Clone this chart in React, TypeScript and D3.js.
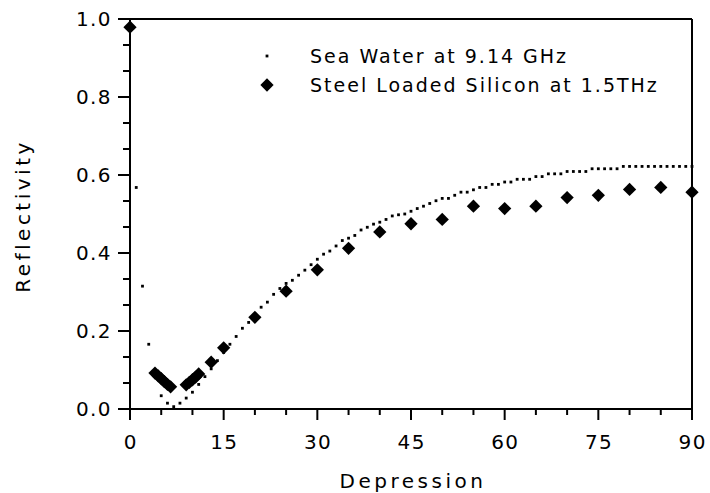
import React from "react";
import * as d3 from "d3";

// Sea water at 9.14 GHz (one dot per degree)
const seaWaterDepression = [
    1, 2, 3, 4, 5, 6, 7, 8, 9, 10, 11, 12, 13, 14, 15, 16, 17, 18, 19, 20,
    21, 22, 23, 24, 25, 26, 27, 28, 29, 30, 31, 32, 33, 34, 35, 36, 37, 38, 39, 40,
    41, 42, 43, 44, 45, 46, 47, 48, 49, 50, 51, 52, 53, 54, 55, 56, 57, 58, 59, 60,
    61, 62, 63, 64, 65, 66, 67, 68, 69, 70, 71, 72, 73, 74, 75, 76, 77, 78, 79, 80,
    81, 82, 83, 84, 85, 86, 87, 88, 89, 90,
];
const seaWaterReflectivity = [
    0.568, 0.315, 0.166, 0.085, 0.034, 0.015, 0.006, 0.015, 0.028, 0.043,
    0.063, 0.083, 0.103, 0.124, 0.145, 0.166, 0.186, 0.207, 0.222, 0.243,
    0.261, 0.274, 0.294, 0.309, 0.322, 0.33, 0.343, 0.356, 0.37, 0.384,
    0.397, 0.405, 0.418, 0.432, 0.438, 0.445, 0.459, 0.466, 0.474, 0.479,
    0.486, 0.495, 0.498, 0.5, 0.507, 0.514, 0.52, 0.527, 0.534, 0.54,
    0.54, 0.548, 0.556, 0.556, 0.562, 0.568, 0.568, 0.576, 0.576, 0.582,
    0.582, 0.589, 0.589, 0.589, 0.596, 0.596, 0.603, 0.603, 0.603, 0.609,
    0.609, 0.609, 0.609, 0.616, 0.616, 0.616, 0.616, 0.616, 0.622, 0.622,
    0.622, 0.622, 0.622, 0.622, 0.622, 0.622, 0.622, 0.622, 0.622, 0.622,
];

// Steel loaded silicon at 1.5 THz
const siliconDepression = [
    0, 4, 4.5, 5, 5.5, 6, 6.5, 9, 9.5, 10, 10.5, 11, 13, 15, 20, 25, 30,
    35, 40, 45, 50, 55, 60, 65, 70, 75, 80, 85, 90,
];
const siliconReflectivity = [
    0.979, 0.092, 0.085, 0.078, 0.07, 0.063, 0.057, 0.062, 0.068, 0.075, 0.082, 0.09, 0.12, 0.157, 0.235, 0.302, 0.357,
    0.412, 0.454, 0.475, 0.486, 0.52, 0.514, 0.52, 0.542, 0.548, 0.563, 0.568, 0.556,
];

const xTicks = [0, 15, 30, 45, 60, 75, 90];
const xMinorTicks = [5, 10, 20, 25, 35, 40, 50, 55, 65, 70, 80, 85];
const yTicks = [0, 0.2, 0.4, 0.6, 0.8, 1.0];
const yMinorTicks = [1 / 15, 2 / 15, 4 / 15, 5 / 15, 7 / 15, 8 / 15, 10 / 15, 11 / 15, 13 / 15, 14 / 15];

const legendLabels = ["Sea Water at 9.14 GHz", "Steel Loaded Silicon at 1.5THz"];

const font = "'DejaVu Sans', Verdana, sans-serif";

export default function App() {
    const left = 130;
    const right = 692;
    const top = 19;
    const bottom = 409;

    const x = d3.scaleLinear().domain([0, 90]).range([left, right]);
    const y = d3.scaleLinear().domain([0, 1]).range([bottom, top]);

    const diamond = d3.symbol(d3.symbolSquare, 88)() as string;
    const seaWater = seaWaterDepression.map((d, i) => ({ d, r: seaWaterReflectivity[i] }));
    const silicon = siliconDepression.map((d, i) => ({ d, r: siliconReflectivity[i] }));

    return (
        <svg width={710} height={493} style={{ position: "absolute", left: 0, top: 0, background: "#fff" }}
            fontFamily={font}>
            {/* sea water dots */}
            {seaWater.map((p, i) => (
                <rect key={"s" + i} x={x(p.d) - 1.4} y={y(p.r) - 1.4} width={2.8} height={2.8} fill="#000" />
            ))}
            {/* silicon diamonds */}
            {silicon.map((p, i) => (
                <path key={"d" + i} d={diamond} transform={`translate(${x(p.d)},${y(p.r)}) rotate(45)`} fill="#000" />
            ))}

            {/* frame */}
            <g stroke="#000" strokeWidth={2} fill="none">
                <line x1={left - 12} x2={right} y1={top} y2={top} />
                <line x1={left - 12} x2={right} y1={bottom} y2={bottom} />
                <line x1={left} x2={left} y1={top} y2={bottom + 11} />
                <line x1={right} x2={right} y1={top} y2={bottom + 11} />
                {xTicks.map((t) => (
                    <line key={"xt" + t} x1={x(t)} x2={x(t)} y1={bottom} y2={bottom + 11} />
                ))}
                {xMinorTicks.map((t) => (
                    <line key={"xm" + t} x1={x(t)} x2={x(t)} y1={bottom} y2={bottom + 6} />
                ))}
                {yTicks.map((t) => (
                    <line key={"yt" + t} x1={left - 12} x2={left} y1={y(t)} y2={y(t)} />
                ))}
                {yMinorTicks.map((t, i) => (
                    <line key={"ym" + i} x1={left - 7} x2={left} y1={y(t)} y2={y(t)} />
                ))}
            </g>

            {/* tick labels */}
            {xTicks.map((t) => (
                <text key={"xl" + t} x={x(t) + 0.7} y={449} textAnchor="middle" fontSize={20}
                    letterSpacing={1.4}>{t}</text>
            ))}
            {yTicks.map((t) => (
                <text key={"yl" + t} x={112} y={y(t)} dy="0.36em" textAnchor="end" fontSize={20}
                    letterSpacing={1.4}>{d3.format(".1f")(t)}</text>
            ))}

            {/* axis titles */}
            <text x={(left + right) / 2 + 2} y={488} textAnchor="middle" fontSize={20} letterSpacing={3.5}>Depression</text>
            <text transform={`translate(30,${(top + bottom) / 2 + 2}) rotate(-90)`} textAnchor="middle" fontSize={20}
                letterSpacing={3.5}>Reflectivity</text>

            {/* legend */}
            <rect x={265.6} y={54.6} width={2.8} height={2.8} fill="#000" />
            <text x={310} y={63} fontSize={19} letterSpacing={2}>{legendLabels[0]}</text>
            <path d={diamond} transform="translate(267,85) rotate(45)" fill="#000" />
            <text x={310} y={92} fontSize={19} letterSpacing={2}>{legendLabels[1]}</text>
        </svg>
    );
}
